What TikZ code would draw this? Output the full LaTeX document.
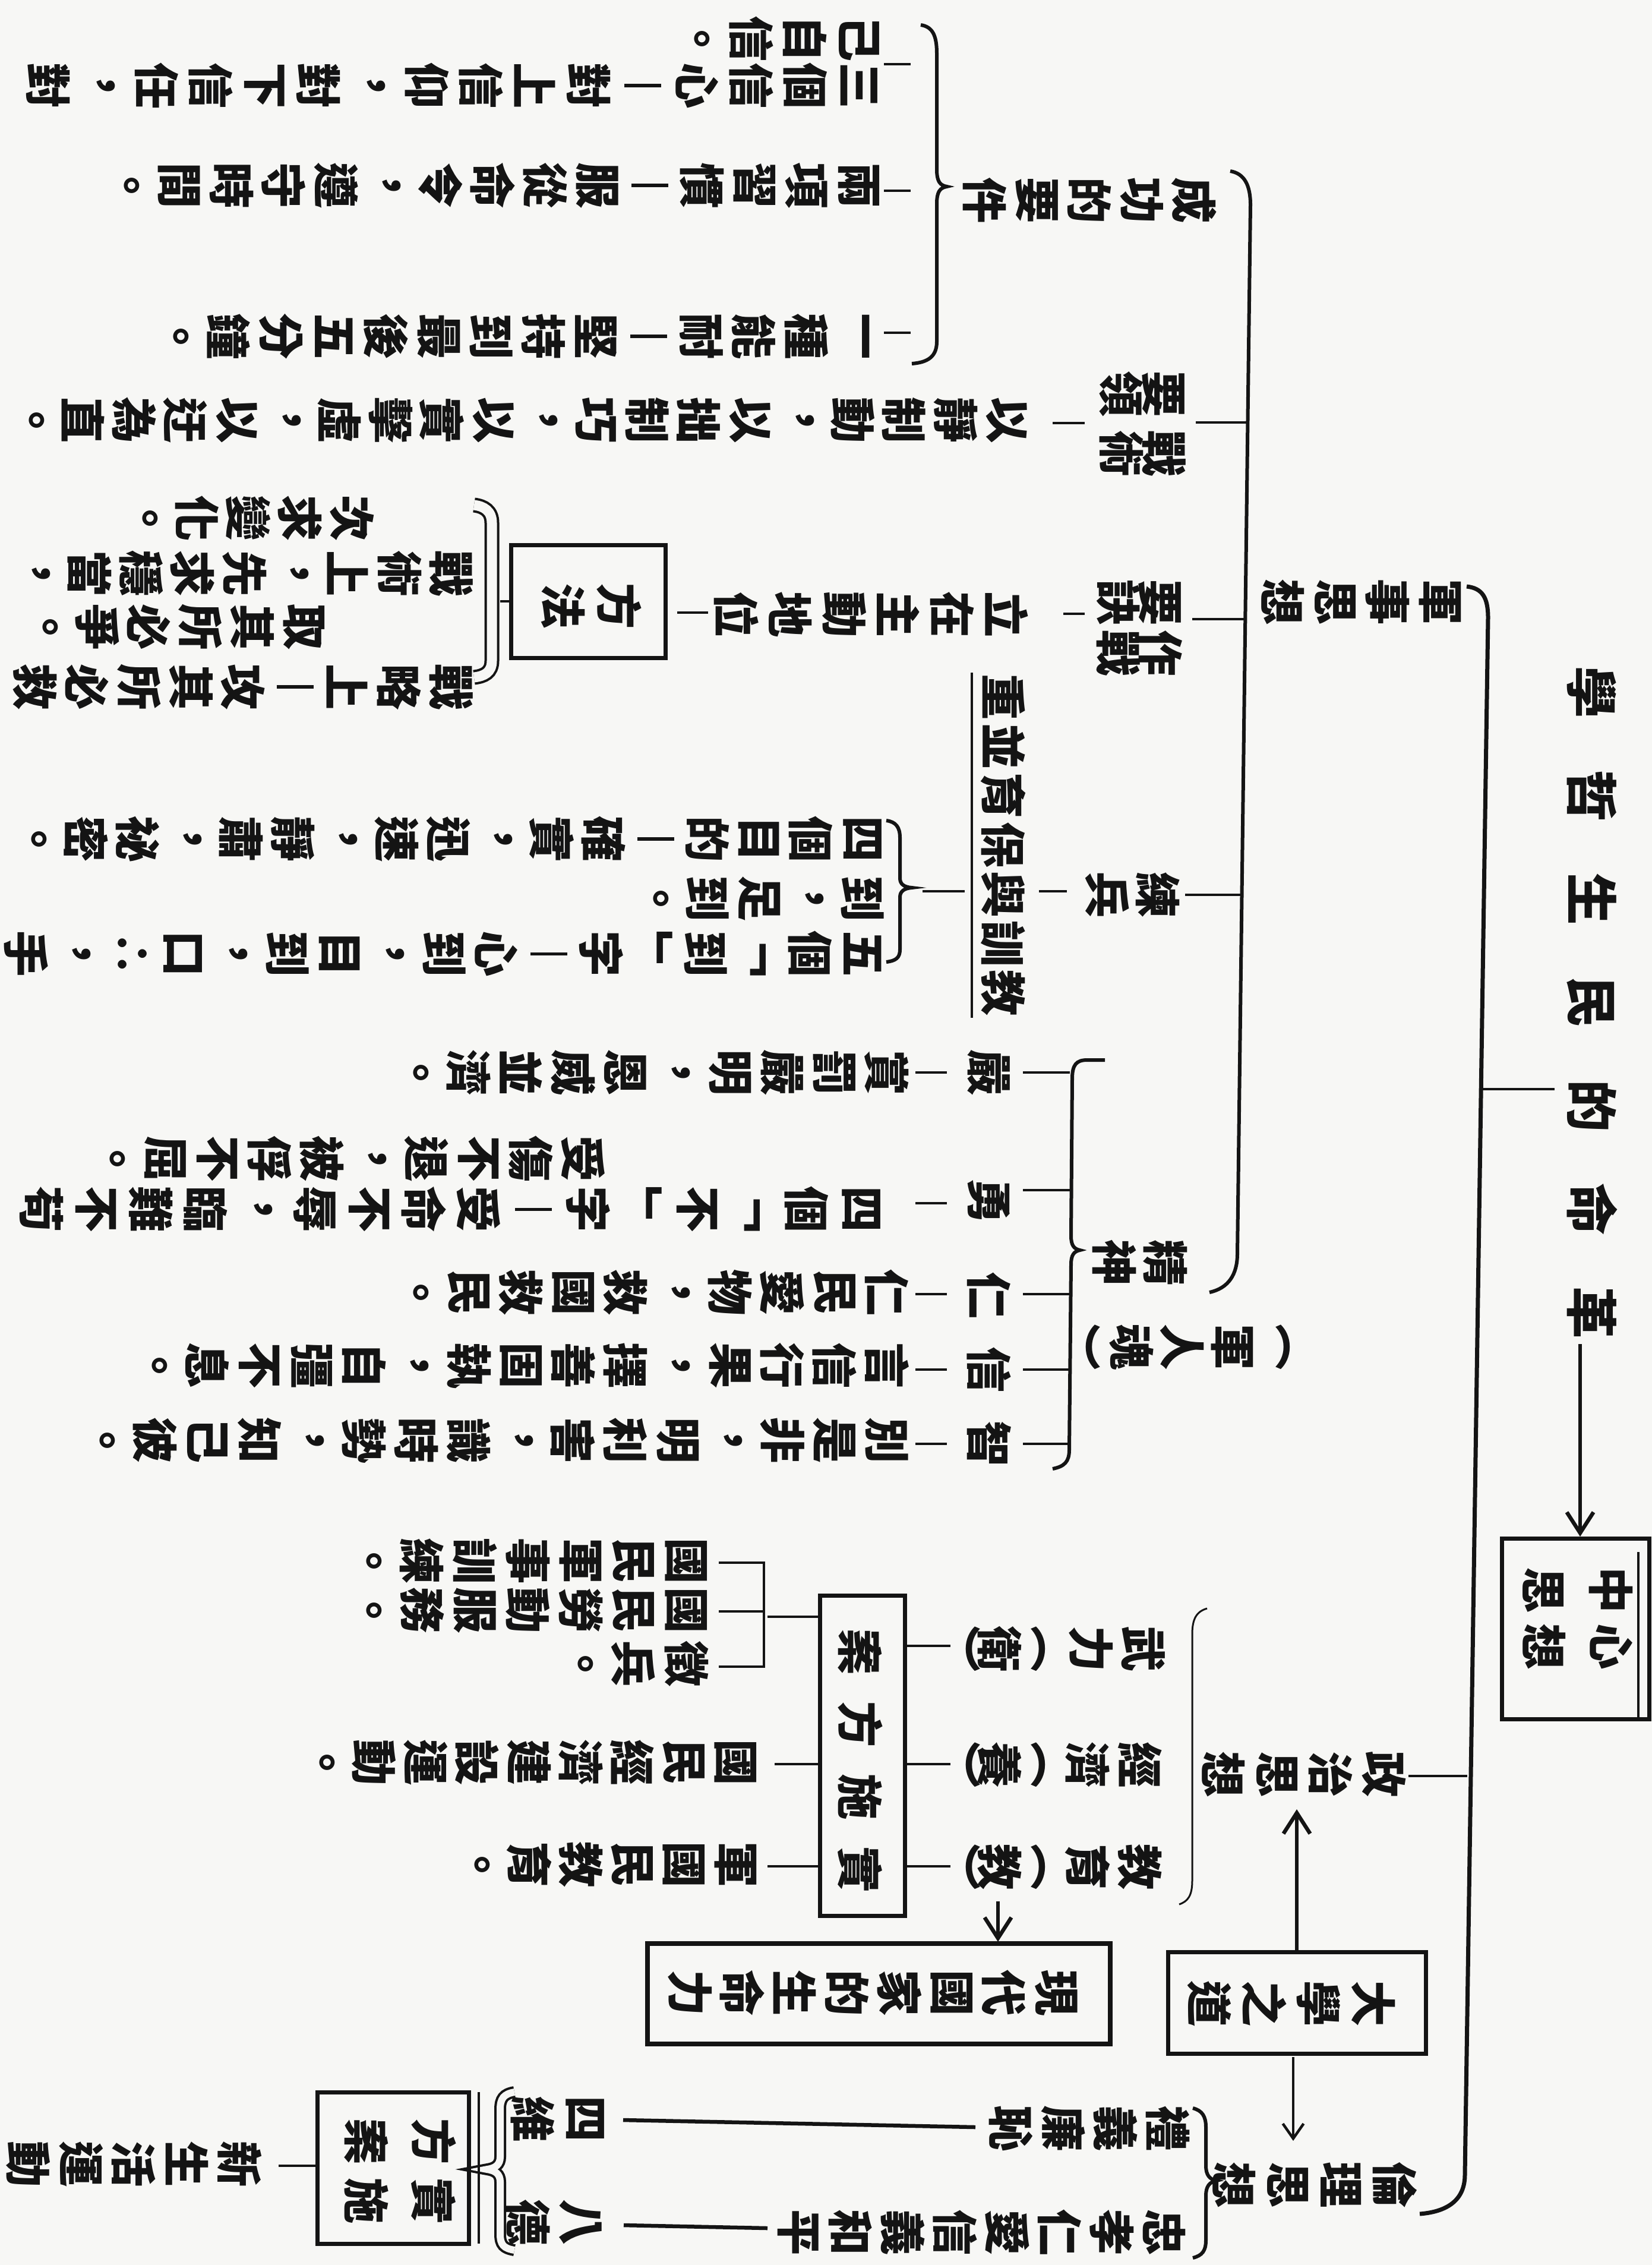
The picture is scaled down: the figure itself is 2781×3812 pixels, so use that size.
\documentclass[tikz,border=0pt]{standalone}
\usepackage{fontspec}
\usepackage{graphicx}
\usetikzlibrary{arrows.meta}
\newfontfamily\cjk{Noto Sans CJK TC}
\newdimen\rsunit \rsunit=0.2pt
\ExplSyntaxOn
\dim_new:N \l_rs_pitch_dim
\tl_new:N \l_rs_tl
\NewDocumentCommand{\rowt}{mm}{
  \dim_set:Nn \l_rs_pitch_dim {#1\rsunit}
  \tl_set:Nn \l_rs_tl {#2}
  \tl_reverse:N \l_rs_tl
  \tl_map_inline:Nn \l_rs_tl {\makebox[\l_rs_pitch_dim]{\rotatebox{-90}{##1}}}
}
\NewDocumentCommand{\colt}{mm}{
  \dim_set:Nn \l_rs_pitch_dim {#1\rsunit}
  \tl_map_inline:nn {#2} {\makebox[\l_rs_pitch_dim]{##1}}
}
\ExplSyntaxOff
\newcommand\vd{\makebox[1em]{\rule[-0.1em]{0.065em}{0.8em}}}
\definecolor{paper}{RGB}{247,247,245}
\definecolor{ink}{RGB}{20,20,20}
\tikzset{
  txt/.style={inner sep=0pt, outer sep=0pt, text=ink, font=\cjk\bfseries\fontsize{15.5pt}{18pt}\selectfont},
  ttl/.style={txt, font=\cjk\bfseries\fontsize{17.5pt}{20pt}\selectfont},
  rowr/.style={txt, anchor=east},
  colr/.style={txt, rotate=-90},
  spine/.style={draw=ink, line width=1.4pt},
  brk/.style={draw=ink, line width=1.2pt},
  thinbrk/.style={draw=ink, line width=0.6pt},
  tick/.style={draw=ink, line width=0.9pt},
  heavy/.style={draw=ink, line width=1.3pt},
  boxln/.style={draw=ink, line width=1.4pt},
  arr/.style={-{Straight Barb[length=7pt,width=9pt]}},
  sarr/.style={-{Straight Barb[length=5pt,width=7pt]}},
}
\begin{document}
\begin{tikzpicture}[x=0.2pt,y=-0.2pt]
\fill[paper] (0,0) rectangle (2781,3812);
\useasboundingbox (0,0) rectangle (2781,3812);

% ---------- title and centre box ----------
\node[colr, ttl] (title) at (2680,1687) {\colt{174}{學哲生民的命革}};
\node[colr] (zx1) at (2712,2724) {\colt{95}{中心}};
\node[colr] (zx2) at (2600,2724) {\colt{95}{思想}};
\draw[boxln] (2528,2589) rectangle (2776,2893);
\draw[tick] (2758,2612) -- (2758,2893);
\coordinate (ta) at (2660,2262);
\coordinate (tb) at (2660,2586);
\draw[heavy, arr] (ta) -- (tb);

% ---------- main spine ----------
\draw[spine] (2469,987) .. controls (2495,990) and (2505,1005) .. (2505,1040) -- (2466,3660) .. controls (2466,3700) and (2440,3722) .. (2390,3726);
\draw[tick] (2495,1833) -- (2617,1833);

\node[rowr] (jssx) at (2468,1013) {\rowt{88}{軍事思想}};
\node[rowr] (zzsx) at (2375,2986) {\rowt{90}{政治思想}};
\node[rowr] (llsx) at (2393,3677) {\rowt{90}{倫理思想}};
\draw[tick] (2371,2989) -- (2470,2989);

% ---------- military bracket ----------
\draw[brk] (2071,288) .. controls (2095,292) and (2105,312) .. (2105,345) -- (2083,2110) .. controls (2083,2145) and (2068,2168) .. (2036,2175);
\draw[tick] (2013,711) -- (2100,711);
\draw[tick] (2007,1042) -- (2096,1042);
\draw[tick] (1995,1506) -- (2091,1506);

% A1 success requirements
\node[rowr] (cg) at (2054,337) {\rowt{88}{成功的要件}};
\draw[brk] (1550,42) .. controls (1570,45) and (1577,60) .. (1577,90) -- (1577,285) .. controls (1577,305) and (1582,312) .. (1594,314) .. controls (1582,316) and (1577,323) .. (1577,343) -- (1577,575) .. controls (1577,600) and (1562,610) .. (1535,612);
\draw[tick] (1488,108) -- (1533,108);
\draw[tick] (1488,321) -- (1533,321);
\draw[tick] (1488,560) -- (1533,560);
\node[rowr] (s1b) at (1492,65) {\rowt{91}{己自信。}};
\node[rowr] (s1a) at (1492,144) {\rowt{91}{三個信心{\vd}對上信仰，對下信任，對}};
\node[rowr] (s2) at (1490,312) {\rowt{88}{兩項習慣{\vd}服從命令，遵守時間。}};
\node[rowr] (s3) at (1490,566) {\rowt{88.4}{一種能耐{\vd}堅持到最後五分鐘。}};

% A2 tactics
\node[colr] (zl1) at (1960,713) {\colt{100}{要戰}};
\node[colr] (zl2) at (1888,713) {\colt{100}{領術}};
\draw[tick] (1772,712) -- (1826,712);
\node[rowr] (zl) at (1738,707) {\rowt{86.4}{以靜制動，以拙制巧，以實擊虛，以迂為直。}};

% A3 combat
\node[colr] (zj1) at (1954,1057) {\colt{85}{要作}};
\node[colr] (zj2) at (1883,1057) {\colt{85}{訣戰}};
\draw[tick] (1790,1033) -- (1826,1033);
\node[rowr] (zj) at (1740,1034) {\rowt{91}{立在主動地位}};
\draw[tick] (1140,1031) -- (1192,1031);
\draw[boxln] (860,917) rectangle (1120,1107);
\node[rowr] (ff) at (1090,1020) {\rowt{95}{方法}};
\draw[ink, line width=0.8pt, double=paper, double distance=3.4pt] (798,850) .. controls (815,852) and (828,860) .. (828,880) -- (828,1112) .. controls (828,1132) and (815,1138) .. (798,1140);
\draw[tick] (842,1012) -- (860,1012);
\node[rowr] (t0) at (636,872) {\rowt{87}{次求變化。}};
\node[rowr] (t1) at (803,965) {\rowt{87}{戰術上，先求穩當，}};
\node[rowr] (u1) at (555,1055) {\rowt{87}{取其所必爭。}};
\node[rowr] (u2) at (803,1156) {\rowt{87.5}{戰略上{\vd}攻其所必救}};

% A4 training
\node[rowr] (lb) at (1992,1506) {\rowt{85}{練兵}};
\draw[tick] (1749,1500) -- (1796,1500);
\node[colr] (jx) at (1689,1422) {\colt{83}{重並育保與訓教}};
\draw[tick] (1636,1132) -- (1636,1713);
\draw[tick] (1553,1500) -- (1624,1500);
\draw[brk] (1492,1381) .. controls (1508,1383) and (1515,1392) .. (1515,1410) -- (1515,1478) .. controls (1515,1488) and (1522,1493) .. (1535,1494) .. controls (1522,1495) and (1515,1500) .. (1515,1510) -- (1515,1598) .. controls (1515,1612) and (1508,1617) .. (1492,1619);
\node[rowr] (md) at (1496,1412) {\rowt{87.2}{四個目的{\vd}確實，迅速，靜肅，祕密。}};
\node[rowr] (l0) at (1496,1512) {\rowt{87}{到，足到。}};
\node[rowr] (l1) at (1496,1605) {\rowt{88}{五個﹁到﹂字{\vd}心到，目到，口∴，手}};

% A5 spirit
\node[rowr] (js) at (2004,2125) {\rowt{85}{精神}};
\node[rowr] (jrh) at (2202,2267) {\rowt{85}{︵軍人魂︶}};
\draw[brk] (1860,1784) -- (1830,1784) .. controls (1812,1784) and (1805,1792) .. (1805,1815) -- (1803,2080) .. controls (1803,2096) and (1808,2102) .. (1818,2104) .. controls (1808,2106) and (1803,2112) .. (1803,2128) -- (1800,2440) .. controls (1800,2460) and (1792,2468) .. (1772,2472);
\foreach \yy in {1805,2003,2178,2305,2430} {\draw[tick] (1722,\yy) -- (1801,\yy);}
\node[rowr] (vyan) at (1709,1805) {\rowt{88}{嚴}};
\node[rowr] (vyong) at (1709,2021) {\rowt{88}{勇}};
\node[rowr] (vren) at (1709,2180) {\rowt{88}{仁}};
\node[rowr] (vxin) at (1709,2305) {\rowt{88}{信}};
\node[rowr] (vzhi) at (1709,2430) {\rowt{88}{智}};
\foreach \yy in {1805,2025,2178,2305,2430} {\draw[tick] (1541,\yy) -- (1594,\yy);}
\node[rowr] (yan) at (1537,1805) {\rowt{88}{賞罰嚴明，恩威並濟。}};
\node[rowr] (yong1) at (1026,1950) {\rowt{88}{受傷不退，被俘不屈。}};
\node[rowr] (yong2) at (1496,2035) {\rowt{92}{四個﹁不﹂字{\vd}受命不辱，臨難不苟}};
\node[rowr] (ren) at (1537,2175) {\rowt{88}{仁民愛物，救國救民。}};
\node[rowr] (xin) at (1537,2298) {\rowt{88}{言信行果，擇善固執，自彊不息。}};
\node[rowr] (zhi) at (1537,2424) {\rowt{88}{別是非，明利害，識時勢，知己彼。}};

% ---------- political ----------
\draw[thinbrk] (2032,2707) .. controls (2014,2712) and (2007,2725) .. (2007,2750) -- (2007,3165) .. controls (2007,3190) and (2000,3200) .. (1985,3205);
\node[rowr] (wl) at (1969,2775) {\rowt{88}{武力}};
\node[rowr] (wl2) at (1780,2775) {\rowt{65}{︵衛︶}};
\node[rowr] (jj) at (1963,2970) {\rowt{88}{經濟}};
\node[rowr] (jj2) at (1780,2970) {\rowt{65}{︵養︶}};
\node[rowr] (jy) at (1963,3142) {\rowt{88}{教育}};
\node[rowr] (jy2) at (1780,3142) {\rowt{65}{︵教︶}};
\foreach \yy in {2770,2969,3141} {\draw[tick] (1523,\yy) -- (1600,\yy);}
\draw[boxln] (1380,2685) rectangle (1523,3224);
\node[colr] (ss) at (1448,2963) {\colt{122}{案方施實}};
\draw[tick] (1292,2721) -- (1380,2721);
\draw[tick] (1304,2969) -- (1380,2969);
\draw[tick] (1292,3141) -- (1380,3141);
\draw[tick] (1210,2630) -- (1286,2630) -- (1286,2805) -- (1210,2805);
\draw[tick] (1210,2712) -- (1286,2712);
\node[rowr] (g1) at (1200,2627) {\rowt{89}{國民軍事訓練。}};
\node[rowr] (g2) at (1200,2710) {\rowt{89}{國民勞動服務。}};
\node[rowr] (g3) at (1200,2800) {\rowt{89}{徵兵。}};
\node[rowr] (g4) at (1282,2966) {\rowt{87}{國民經濟建設運動。}};
\node[rowr] (g5) at (1282,3138) {\rowt{87}{軍國民教育。}};
\draw[heavy, arr] (1680,3200) -- (1680,3268);
\draw[ink, line width=1.7pt] (1090,3271) rectangle (1869,3440);
\node[rowr] (xd) at (1822,3354) {\rowt{88}{現代國家的生命力}};

% ---------- great learning ----------
\draw[boxln] (1966,3285) rectangle (2400,3456);
\node[rowr] (dxzd) at (2358,3372) {\rowt{92}{大學之道}};
\draw[heavy, arr] (2183,3285) -- (2183,3045);
\draw[tick, sarr] (2177,3462) -- (2177,3603);

% ---------- ethics ----------
\draw[brk] (2008,3548) .. controls (2024,3552) and (2030,3562) .. (2030,3580) -- (2030,3645) .. controls (2030,3660) and (2036,3668) .. (2048,3670) .. controls (2036,3672) and (2030,3680) .. (2030,3695) -- (2030,3770) .. controls (2030,3788) and (2024,3796) .. (2008,3800);
\node[rowr] (lylc) at (2010,3582) {\rowt{88}{禮義廉恥}};
\draw[heavy] (1642,3580) -- (1049,3568);
\node[rowr] (sw) at (1030,3566) {\rowt{89}{四維}};
\node[rowr] (zxrx) at (2004,3757) {\rowt{88}{忠孝仁愛信義和平}};
\draw[heavy] (1292,3750) -- (1050,3745);
\node[rowr] (bd) at (1021,3740) {\rowt{88}{八德}};
\draw[ink, line width=0.8pt, double=paper, double distance=2.4pt] (866,3521) .. controls (848,3524) and (842,3532) .. (842,3550) -- (842,3630) .. controls (842,3643) and (834,3649) .. (820,3651) .. controls (834,3653) and (842,3659) .. (842,3672) -- (842,3760) .. controls (842,3778) and (848,3784) .. (866,3787);
\draw[boxln] (534,3521) rectangle (789,3776);
\draw[tick] (806,3521) -- (806,3776);
\node[colr] (fa1) at (730,3654) {\colt{100}{方實}};
\node[colr] (fa2) at (617,3654) {\colt{100}{案施}};
\draw[tick] (469,3645) -- (534,3645);
\node[rowr] (xsh) at (448,3642) {\rowt{89}{新生活運動}};
\end{tikzpicture}
\end{document}
